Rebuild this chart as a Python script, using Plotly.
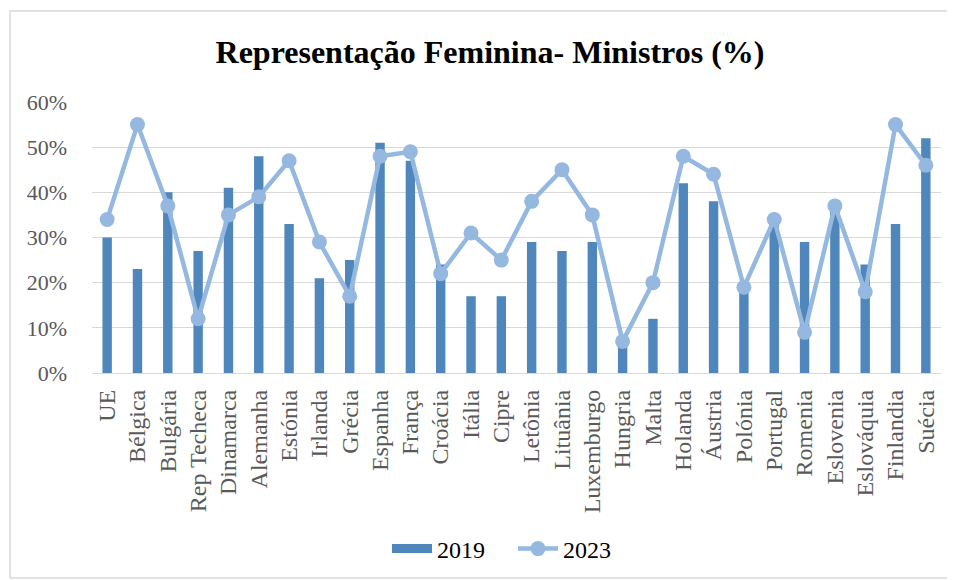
import plotly.graph_objects as go

categories = ["UE", "Bélgica", "Bulgária", "Rep Techeca", "Dinamarca", "Alemanha", "Estónia",
              "Irlanda", "Grécia", "Espanha", "França", "Croácia", "Itália", "Cipre", "Letônia",
              "Lituânia", "Luxemburgo", "Hungria", "Malta", "Holanda", "Áustria", "Polónia",
              "Portugal", "Romenia", "Eslovenia", "Eslováquia", "Finlandia", "Suécia"]
values_2019 = [30, 23, 40, 27, 41, 48, 33, 21, 25, 51, 47, 24, 17, 17, 29, 27, 29, 6, 12, 42,
               38, 18, 33, 29, 36, 24, 33, 52]
values_2023 = [34, 55, 37, 12, 35, 39, 47, 29, 17, 48, 49, 22, 31, 25, 38, 45, 35, 7, 20, 48,
               44, 19, 34, 9, 37, 18, 55, 46]
y_ticks = [0, 10, 20, 30, 40, 50, 60]
y_tick_labels = ["0%", "10%", "20%", "30%", "40%", "50%", "60%"]

# page has an 8px body margin; figure coords = page coords - 8
OFF = 8
W, H = 955 - OFF, 580 - OFF
ml, mr, mt, mb = 92 - OFF, 14, 102 - OFF, H - (373 - OFF)
pw, ph = W - ml - mr, H - mt - mb
SERIF = "Liberation Serif"
BAR_C = "#4F86BC"
LINE_C = "#95B8E0"

fig = go.Figure()
fig.add_trace(go.Bar(x=categories, y=values_2019, name="2019", marker_color=BAR_C,
                     marker_line_width=0, showlegend=False))
fig.add_trace(go.Scatter(x=[None], y=[None], name="2019", mode="lines",
                         line=dict(color=BAR_C, width=9)))
fig.add_trace(go.Scatter(x=categories, y=values_2023, name="2023", mode="lines+markers",
                         line=dict(color=LINE_C, width=4.5),
                         marker=dict(size=15, color=LINE_C)))

def px_x(p):
    return (p - OFF - ml) / pw

def px_y(p):
    return (H - mb - (p - OFF)) / ph

fig.add_shape(type="rect", xref="paper", yref="paper",
              x0=px_x(10), x1=px_x(948), y0=px_y(578), y1=px_y(11),
              line=dict(color="#D9D9D9", width=1.5), fillcolor="rgba(0,0,0,0)", layer="below")

fig.update_layout(
    width=W, height=H,
    margin=dict(l=ml, r=mr, t=mt, b=mb, pad=0, autoexpand=False),
    paper_bgcolor="white", plot_bgcolor="white",
    font=dict(family=SERIF, color="#595959"),
    title=dict(text="<b>Representação Feminina- Ministros (%)</b>", x=(490 - OFF) / W,
               xanchor="center", xref="container", y=1 - (52 - OFF) / H, yanchor="middle",
               automargin=False,
               font=dict(size=32, color="black", family=SERIF, weight="bold")),
    bargap=0.69,
    showlegend=True,
    legend=dict(orientation="h", x=px_x(387), xanchor="left", y=px_y(549), yanchor="middle",
                font=dict(size=24, color="black", family=SERIF), itemwidth=40,
                entrywidth=71, entrywidthmode="pixels", traceorder="normal"),
    xaxis=dict(range=[-0.5, 27.5], tickangle=-90,
               tickfont=dict(size=24, color="#595959", family=SERIF),
               showgrid=False, showline=False, ticks="", ticklabelstandoff=11, automargin=False),
    yaxis=dict(range=[0, 60], tickmode="array", tickvals=y_ticks, ticktext=y_tick_labels,
               tickfont=dict(size=22, family=SERIF, color="#595959"),
               showgrid=True, gridcolor="#D9D9D9", gridwidth=1.3, zeroline=True,
               zerolinecolor="#D9D9D9", zerolinewidth=1.3, showline=False, ticks="",
               ticklabelstandoff=24, automargin=False),
)

fig.write_html("out.html")
